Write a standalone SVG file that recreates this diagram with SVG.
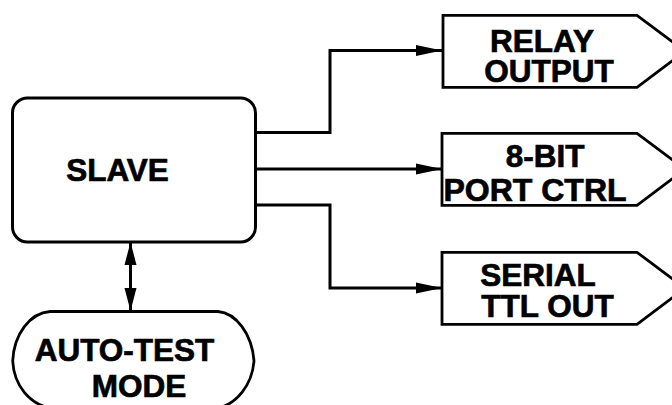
<svg xmlns="http://www.w3.org/2000/svg" width="672" height="405" viewBox="0 0 672 405">
<style>
.box{fill:#fff;stroke:#000;stroke-width:2.8;stroke-linejoin:miter}
.lbl{font-family:"Liberation Sans",Arial,sans-serif;font-weight:bold;font-size:31.5px;fill:#000;stroke:#000;stroke-width:0.7;text-anchor:middle}
.wire{fill:none;stroke:#000;stroke-width:3}
</style>
<defs>
<marker id="ah" markerUnits="userSpaceOnUse" markerWidth="28" markerHeight="13" refX="26" refY="6" orient="auto">
<path d="M0,0.5 L26,6 L0,11.5 Z" fill="#000"/>
</marker>
<marker id="av" markerUnits="userSpaceOnUse" markerWidth="25" markerHeight="14" refX="23" refY="6.5" orient="auto-start-reverse">
<path d="M0,0.5 L23,6.5 L0,12.5 Z" fill="#000"/>
</marker>
</defs>
<rect width="672" height="405" fill="#fff"/>
<g id="connectors">
<path class="wire" d="M256,132.5 H330 V50.5 H442" marker-end="url(#ah)"/>
<path class="wire" d="M256,169 H442" marker-end="url(#ah)"/>
<path class="wire" d="M256,205 H330 V288 H442" marker-end="url(#ah)"/>
<path class="wire" d="M130.5,242 V311" marker-start="url(#av)" marker-end="url(#av)"/>
</g>
<g id="slave">
<rect class="box" x="12.5" y="98" width="243" height="144" rx="15" ry="15" style="stroke-width:3"/>
<text class="lbl" x="117.5" y="180.5">SLAVE</text>
</g>
<g id="autotest">
<path class="box" d="M50,311.5 H218 C236,313 252,334 254,361 C252,386 236,404 218,408 H50 C30,404 14,386 12.7,361 C14,334 30,313 50,311.5 Z"/>
<text class="lbl" x="124.5" y="360.5">AUTO-TEST</text>
<text class="lbl" x="139" y="396.5">MODE</text>
</g>
<g id="relay">
<path class="box" d="M443,15.3 H637 L685,51.3 L637,87.3 H443 Z"/>
<text class="lbl" x="542" y="51.5">RELAY</text>
<text class="lbl" x="549" y="81.5">OUTPUT</text>
</g>
<g id="port">
<path class="box" d="M442,133.3 H637 L685,169.3 L637,205.3 H442 Z"/>
<text class="lbl" x="545" y="167">8-BIT</text>
<text class="lbl" x="535" y="200.5" style="font-size:32px">PORT CTRL</text>
</g>
<g id="serial">
<path class="box" d="M442,252.3 H637 L685,288.3 L637,324.3 H442 Z"/>
<text class="lbl" x="538" y="285.5">SERIAL</text>
<text class="lbl" x="547.5" y="317">TTL OUT</text>
</g>
</svg>
